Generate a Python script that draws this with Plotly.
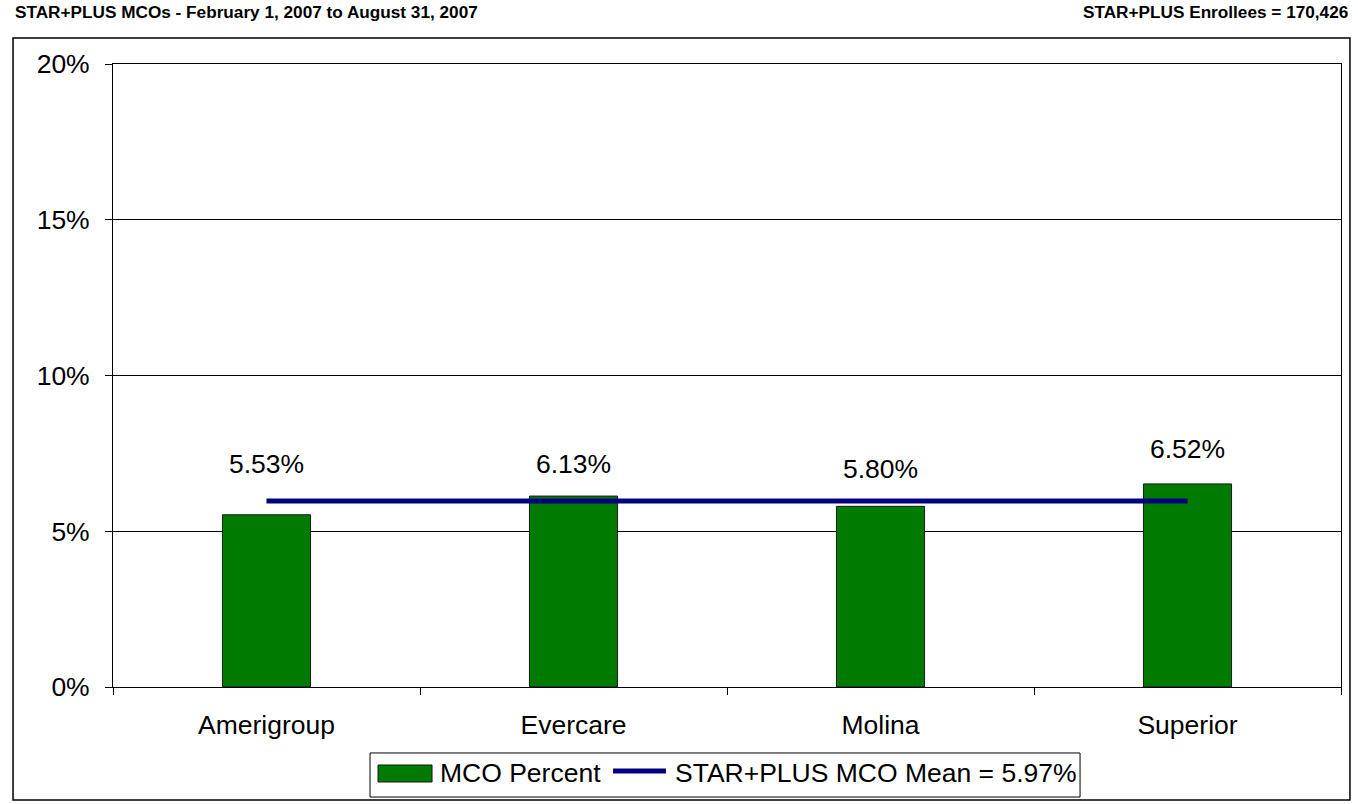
import plotly.graph_objects as go

# ---- data ----
categories = ["Amerigroup", "Evercare", "Molina", "Superior"]
mco_percent = [5.53, 6.13, 5.80, 6.52]
mean_value = 5.97
y_ticks = [0, 5, 10, 15, 20]

title_left = "STAR+PLUS MCOs - February 1, 2007 to August 31, 2007"
title_right = "STAR+PLUS Enrollees = 170,426"
bar_name = "MCO Percent"
line_name = f"STAR+PLUS MCO Mean = {mean_value:.2f}%"

# label vertical offsets in px (style)
label_shifts = [51, 32, 37, 35]

FONT = "Liberation Sans, Arial, sans-serif"
FS = 26.5
TFS = 17.2

fig = go.Figure()
fig.add_trace(go.Bar(
    x=categories, y=mco_percent, name=bar_name,
    marker=dict(color="#007A00", line=dict(color="#1a1a1a", width=1)),
    showlegend=False, hoverinfo="x+y",
))
fig.add_trace(go.Scatter(
    x=categories, y=[mean_value] * len(categories), name=line_name,
    mode="lines", line=dict(color="#000080", width=5), showlegend=False,
))

# value labels
for c, v, s in zip(categories, mco_percent, label_shifts):
    fig.add_annotation(x=c, y=v, text=f"{v:.2f}%", showarrow=False,
                       xref="x", yref="y", yshift=s, yanchor="middle",
                       font=dict(size=FS, color="black", family=FONT))

# titles
fig.add_annotation(x=-0.0814, y=1.0835, xref="paper", yref="paper", text=f"<b>{title_left}</b>",
                   showarrow=False, xanchor="left", yanchor="middle",
                   font=dict(size=TFS, color="black", family=FONT))
fig.add_annotation(x=1.0073, y=1.0835, xref="paper", yref="paper", text=f"<b>{title_right}</b>",
                   showarrow=False, xanchor="right", yanchor="middle",
                   font=dict(size=TFS, color="black", family=FONT))

shapes = [
    # outer chart border
    dict(type="rect", xref="paper", yref="paper", x0=-0.0814, x1=1.0073, y0=-0.1814, y1=1.0417,
         line=dict(color="black", width=1.5), fillcolor="rgba(0,0,0,0)", layer="below"),
    # legend box
    dict(type="rect", xref="paper", yref="paper", x0=0.2093, x1=0.7875, y0=-0.1766, y1=-0.1059,
         line=dict(color="black", width=1), fillcolor="white"),
    # legend bar swatch
    dict(type="rect", xref="paper", yref="paper", x0=0.2158, x1=0.2598, y0=-0.1525, y1=-0.1252,
         line=dict(color="#1a1a1a", width=1), fillcolor="#007A00"),
    # legend line swatch
    dict(type="line", xref="paper", yref="paper", x0=0.4072, x1=0.4503, y0=-0.1348, y1=-0.1348,
         line=dict(color="#000080", width=5)),
]
fig.add_annotation(x=0.2647, y=-0.1380, xref="paper", yref="paper", text=bar_name,
                   showarrow=False, xanchor="left", yanchor="middle",
                   font=dict(size=FS, color="black", family=FONT))
fig.add_annotation(x=0.4560, y=-0.1380, xref="paper", yref="paper", text=line_name,
                   showarrow=False, xanchor="left", yanchor="middle",
                   font=dict(size=FS, color="black", family=FONT))

fig.update_layout(
    width=1358, height=804,
    margin=dict(l=113, r=17, t=64, b=117),
    paper_bgcolor="white", plot_bgcolor="white",
    bargap=0.713,
    shapes=shapes,
    font=dict(family=FONT, size=FS, color="black"),
    showlegend=False,
)
fig.update_xaxes(
    type="category", showline=True, linecolor="black", linewidth=1, mirror=True,
    ticks="outside", tickson="boundaries", ticklen=7, tickcolor="black",
    showgrid=False, ticklabelstandoff=14,
    tickfont=dict(size=FS, family=FONT, color="black"),
)
fig.update_yaxes(
    range=[0, 20], tickvals=y_ticks, ticktext=[f"{t}%" for t in y_ticks],
    showline=True, linecolor="black", linewidth=1, mirror=True,
    ticks="outside", ticklen=7, tickcolor="black",
    showgrid=True, gridcolor="black", gridwidth=1, zeroline=False,
    ticklabelstandoff=10,
    tickfont=dict(size=FS, family=FONT, color="black"),
)

fig.write_html("out.html", config={"displayModeBar": False},
               post_script="document.body.style.margin='0';document.body.style.padding='0';")
